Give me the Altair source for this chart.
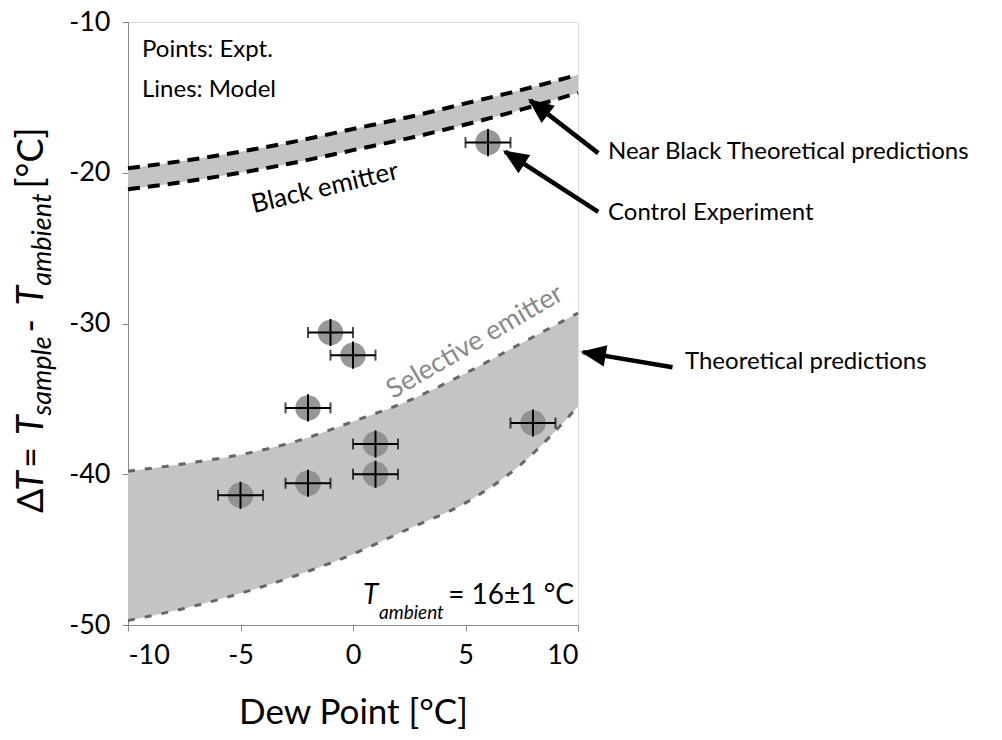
import math
import altair as alt
import pandas as pd

FONT = "Lato, DejaVu Sans, sans-serif"

# ---- model curves ----
curve_x = [-10, -7.5, -5, -2.5, 0, 2.5, 5, 7.5, 10]
black_upper = [-19.7, -19.2, -18.6, -17.9, -17.1, -16.3, -15.4, -14.5, -13.5]
black_lower = [-21.1, -20.6, -20.0, -19.3, -18.5, -17.7, -16.8, -15.8, -14.7]
selective_upper = [-39.8, -39.3, -38.7, -37.8, -36.5, -35.1, -33.3, -31.3, -29.3]
selective_lower = [-49.7, -48.9, -47.9, -46.7, -45.3, -43.6, -41.9, -39.3, -35.5]

# ---- experimental points ----
expt_x = [6, -1, 0, -2, 8, 1, 1, -2, -5]
expt_y = [-18.0, -30.6, -32.1, -35.6, -36.6, -38.0, -40.0, -40.6, -41.4]
expt_xerr = [1.0, 1.0, 1.0, 1.0, 1.0, 1.0, 1.0, 1.0, 1.0]
expt_yerr = [0.9, 0.9, 0.9, 0.9, 0.9, 0.9, 0.9, 0.9, 0.9]

# ---- axes ----
x_ticks = [-10, -5, 0, 5, 10]
y_ticks = [-50, -40, -30, -20, -10]
x_domain = [-10, 10]
y_domain = [-50, -10]

# ---- annotation arrows (tail -> tip, data units) ----
arrow_tail_x = [10.9, 10.9, 14.2]
arrow_tail_y = [-18.7, -22.6, -32.9]
arrow_tip_x = [7.87, 6.76, 10.22]
arrow_tip_y = [-15.2, -18.6, -31.9]

W, H = 450, 603

curves = pd.DataFrame({"x": curve_x, "bu": black_upper, "bl": black_lower,
                       "su": selective_upper, "sl": selective_lower})
pts = pd.DataFrame({"x": expt_x, "y": expt_y, "xe": expt_xerr, "ye": expt_yerr})
pts["xlo"] = pts["x"] - pts["xe"]
pts["xhi"] = pts["x"] + pts["xe"]
pts["ylo"] = pts["y"] - pts["ye"]
pts["yhi"] = pts["y"] + pts["ye"]

arrows = pd.DataFrame({"tx": arrow_tail_x, "ty": arrow_tail_y,
                       "hx": arrow_tip_x, "hy": arrow_tip_y})
pxu, pyu = W / (x_domain[1] - x_domain[0]), H / (y_domain[1] - y_domain[0])
arrows["ang"] = [
    (math.degrees(math.atan2((hx - tx) * pxu, (hy - ty) * pyu)) + 360) % 360
    for tx, ty, hx, hy in zip(arrow_tail_x, arrow_tail_y, arrow_tip_x, arrow_tip_y)
]

xs = alt.Scale(domain=x_domain, nice=False, zero=False)
ys = alt.Scale(domain=y_domain, nice=False, zero=False)
x_axis = alt.Axis(values=x_ticks, title="Dew Point [°C]", labelExpr="'' + datum.value",
                  labelFontSize=27, labelPadding=11, tickSize=6, titleFontSize=35,
                  titleFontWeight="normal", titleBaseline="alphabetic", titleY=98,
                  grid=False, labelFont=FONT, titleFont=FONT)
y_axis = alt.Axis(values=y_ticks, title=None, labelExpr="'' + datum.value",
                  labelFontSize=27, labelPadding=12, tickSize=6, grid=False, labelFont=FONT)


def X(f):
    return alt.X(f, type="quantitative", scale=xs, axis=x_axis)


def Y(f):
    return alt.Y(f, type="quantitative", scale=ys, axis=y_axis)


band_fill = "#c4c4c4"
base = alt.Chart(curves)
black_band = base.mark_area(color=band_fill, interpolate="monotone").encode(
    x=X("x"), y=Y("bu"), y2="bl")
sel_band = base.mark_area(color=band_fill, interpolate="monotone").encode(
    x=X("x"), y=Y("su"), y2="sl")


def dline(field, color, width, dash):
    return base.mark_line(color=color, strokeWidth=width, strokeDash=dash,
                          interpolate="monotone").encode(x=X("x"), y=Y(field))


lines = [dline("bu", "black", 4, [12, 8]), dline("bl", "black", 4, [12, 8]),
         dline("su", "#666666", 3, [7, 10]), dline("sl", "#666666", 3, [7, 10])]

pbase = alt.Chart(pts)
circles = pbase.mark_circle(size=650, color="#8c8c8c", opacity=0.9).encode(x=X("x"), y=Y("y"))
xerr = pbase.mark_rule(color="black", strokeWidth=2).encode(x=X("xlo"), x2="xhi", y=Y("y"))
yerr = pbase.mark_rule(color="black", strokeWidth=2).encode(x=X("x"), y=Y("ylo"), y2="yhi")
cap_lo = pbase.mark_tick(color="black", orient="vertical", size=11, thickness=2).encode(x=X("xlo"), y=Y("y"))
cap_hi = pbase.mark_tick(color="black", orient="vertical", size=11, thickness=2).encode(x=X("xhi"), y=Y("y"))

abase = alt.Chart(arrows)
arrow_lines = abase.mark_rule(color="black", strokeWidth=4.5).encode(
    x=X("tx"), y=Y("ty"), x2="hx", y2="hy")
arrow_heads = abase.mark_point(shape="M0,0L0.85,2L-0.85,2Z", filled=True, fill="black",
                               stroke="black", opacity=1, size=480).encode(
    x=X("hx"), y=Y("hy"), angle=alt.Angle("ang:Q", scale=None))

dummy = pd.DataFrame({"a": [1]})


def txt(text, x, y, size, angle=0, align="left", baseline="alphabetic",
        style="normal", color="black"):
    return alt.Chart(dummy).mark_text(
        text=text, fontSize=size, angle=angle, align=align, baseline=baseline,
        fontStyle=style, color=color, font=FONT).encode(x=alt.value(x), y=alt.value(y))


texts = [
    txt("Points: Expt.", 14, 35, 24),
    txt("Lines: Model", 14, 75, 24),
    txt("Black emitter", 197, 166, 26, angle=346.7, align="center", baseline="middle"),
    txt("Selective emitter", 347, 320, 27, angle=329.7, align="center", baseline="middle",
        color="#8a8a8a"),
    txt("T", 235, 582, 28, style="italic"),
    txt("ambient", 251, 597, 19, style="italic"),
    txt("= 16±1 °C", 446, 582, 28, align="right"),
    txt("Near Black Theoretical predictions", 480, 130, 24, baseline="middle"),
    txt("Control Experiment", 480, 191, 24, baseline="middle"),
    txt("Theoretical predictions", 557, 340, 24, baseline="middle"),
    # y-axis title, built from pieces (rotated)
    txt("Δ", -85, 491, 36, angle=270),
    txt("T", -85, 468.7, 36, angle=270, style="italic"),
    txt(" = ", -85, 446, 36, angle=270),
    txt("T", -85, 413, 36, angle=270, style="italic"),
    txt("sample", -77, 393.5, 27, angle=270, style="italic"),
    txt(" - ", -85, 310.5, 36, angle=270),
    txt("T", -85, 283.5, 36, angle=270, style="italic"),
    txt("ambient", -77, 263.7, 27, angle=270, style="italic"),
    txt(" [°C]", -85, 166.5, 36, angle=270),
]

chart = alt.layer(
    black_band, sel_band, *lines, circles, xerr, yerr, cap_lo, cap_hi,
    arrow_lines, arrow_heads, *texts
).properties(
    width=W, height=H, autosize="none",
    padding={"left": 120, "top": 14, "right": 414, "bottom": 106},
).configure_view(
    stroke="black", strokeWidth=2
).configure_axis(
    domainColor="black", domainWidth=2, tickColor="black", tickWidth=2,
    labelColor="black", titleColor="black"
).configure(font=FONT)

chart.save("out.html", embed_options={"renderer": "svg", "actions": False})
